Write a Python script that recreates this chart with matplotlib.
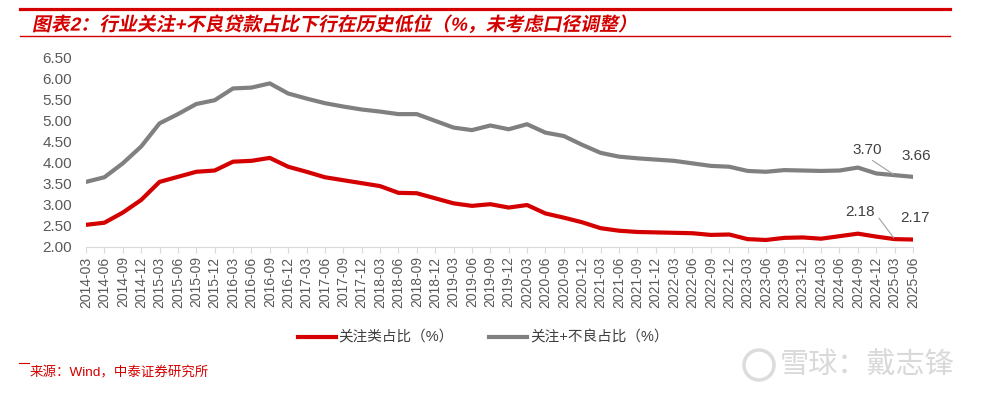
import matplotlib
matplotlib.use("Agg")
import matplotlib.pyplot as plt
from matplotlib.lines import Line2D
from matplotlib.patches import Circle
from matplotlib.patheffects import AbstractPathEffect
from matplotlib.transforms import Affine2D

plt.rcParams['font.family'] = ['Liberation Sans', 'Noto Sans CJK SC', 'DejaVu Sans']

# quarter labels 2014-03 .. 2025-06
quarters = [f"{y}-{m}" for y in range(2014, 2026) for m in ("03", "06", "09", "12")][:46]

# 关注类占比 (%)
attention = [2.52, 2.57, 2.81, 3.11, 3.54, 3.66, 3.78, 3.81, 4.02, 4.04, 4.11, 3.90,
             3.78, 3.65, 3.58, 3.51, 3.44, 3.28, 3.27, 3.15, 3.03, 2.97, 3.01, 2.93,
             2.99, 2.79, 2.69, 2.58, 2.44, 2.38, 2.35, 2.34, 2.33, 2.32, 2.28, 2.29,
             2.18, 2.16, 2.21, 2.22, 2.19, 2.25, 2.31, 2.24, 2.18, 2.17]
# 关注+不良占比 (%)
attention_npl = [3.54, 3.65, 3.98, 4.38, 4.93, 5.15, 5.39, 5.48, 5.76, 5.78, 5.88, 5.64,
                 5.52, 5.41, 5.33, 5.26, 5.21, 5.15, 5.15, 4.99, 4.83, 4.77, 4.88, 4.79,
                 4.91, 4.71, 4.63, 4.42, 4.23, 4.14, 4.10, 4.07, 4.04, 3.98, 3.92, 3.90,
                 3.80, 3.78, 3.82, 3.81, 3.80, 3.81, 3.88, 3.74, 3.70, 3.66]

yticks = [2.0, 2.5, 3.0, 3.5, 4.0, 4.5, 5.0, 5.5, 6.0, 6.5]

RED = '#d40000'
GRAY = '#808080'


class Slant(AbstractPathEffect):
    # fake italic: shear glyphs around a baseline (display pixels)
    def __init__(self, y0, k=0.2):
        super().__init__()
        self.y0 = y0
        self.k = k

    def draw_path(self, renderer, gc, tpath, affine, rgbFace=None):
        sk = Affine2D().translate(0, -self.y0).skew(self.k, 0).translate(0, self.y0)
        renderer.draw_path(gc, tpath, affine + sk, rgbFace)


fig = plt.figure(figsize=(9.82, 3.98), dpi=100)
ax = fig.add_axes([86 / 982, 1 - 246.7 / 398, (914 - 87) / 982, (246.7 - 57.3) / 398])

x = list(range(len(quarters)))
ax.plot(x, attention, color=RED, lw=3, solid_capstyle='round')
ax.plot(x, attention_npl, color=GRAY, lw=3, solid_capstyle='round')

ax.set_xlim(0, len(quarters) - 1)
ax.set_ylim(2.0, 6.5)
ax.set_yticks(yticks)
ax.set_yticklabels([f"{v:.2f}" for v in yticks], fontsize=11, color='#595959')
ax.set_xticks(x)
ax.set_xticklabels(quarters, rotation=90, fontsize=10, color='#595959')
ax.tick_params(axis='y', length=0, pad=10)
ax.tick_params(axis='x', length=4, color='#d9d9d9', pad=3)
for s in ('top', 'right', 'left'):
    ax.spines[s].set_visible(False)
ax.spines['bottom'].set_color('#d9d9d9')
ax.set_clip_on(False)

lab = dict(fontsize=11, color='#404040', ha='center', va='center')
ax.annotate(f"{attention_npl[44]:.2f}", xy=(44, attention_npl[44]), xytext=(42.5, 4.30),
            arrowprops=dict(arrowstyle='-', color='#a0a0a0', lw=0.8, relpos=(0.5, 0),
                            shrinkA=1, shrinkB=1), **lab)
ax.annotate(f"{attention_npl[45]:.2f}", xy=(45, attention_npl[45]), xytext=(45.2, 4.16), **lab)
ax.annotate(f"{attention[44]:.2f}", xy=(44, attention[44]), xytext=(42.1, 2.82),
            arrowprops=dict(arrowstyle='-', color='#a0a0a0', lw=0.8, relpos=(1, 0.5),
                            shrinkA=2, shrinkB=1), **lab)
ax.annotate(f"{attention[45]:.2f}", xy=(45, attention[45]), xytext=(45.1, 2.68), **lab)

# legend
handles = [Line2D([], [], color=RED, lw=3), Line2D([], [], color=GRAY, lw=3)]
fig.legend(handles, ['关注类占比（%）', '关注+不良占比（%）'], loc='center',
           bbox_to_anchor=(0.492, 0.151), ncol=2, frameon=False, fontsize=10.5,
           handlelength=2.6, handletextpad=0.2, columnspacing=2.4, labelcolor='#404040')

# header lines and title
fig.add_artist(Line2D([20 / 982, 950 / 982], [1 - 9.3 / 398] * 2, color=RED, lw=2.3))
fig.add_artist(Line2D([20 / 982, 950 / 982], [1 - 36 / 398] * 2, color=RED, lw=1.0))
fig.text(32 / 982, 1 - 25 / 398, '图表2：行业关注+不良贷款占比下行在历史低位（%，未考虑口径调整）',
         fontsize=13.6, fontweight='bold', color=RED, va='center', ha='left',
         path_effects=[Slant(398 - 30)])

# source
fig.add_artist(Line2D([19 / 982, 29 / 982], [1 - 363 / 398] * 2, color=RED, lw=0.8))
fig.text(30 / 982, 1 - 373 / 398, '来源：Wind，中泰证券研究所', fontsize=9.7, color=RED,
         va='center', ha='left')

# watermark
fig.add_artist(Circle((7.59, 0.33), 0.15, transform=fig.dpi_scale_trans, fill=False,
                      ec='#dcdcdc', lw=2.5))
fig.text(780 / 982, 1 - 366 / 398, '雪球：戴志锋', fontsize=21, color='#d9d9d9',
         va='center', ha='left')

fig.savefig('out.png', dpi=100)
